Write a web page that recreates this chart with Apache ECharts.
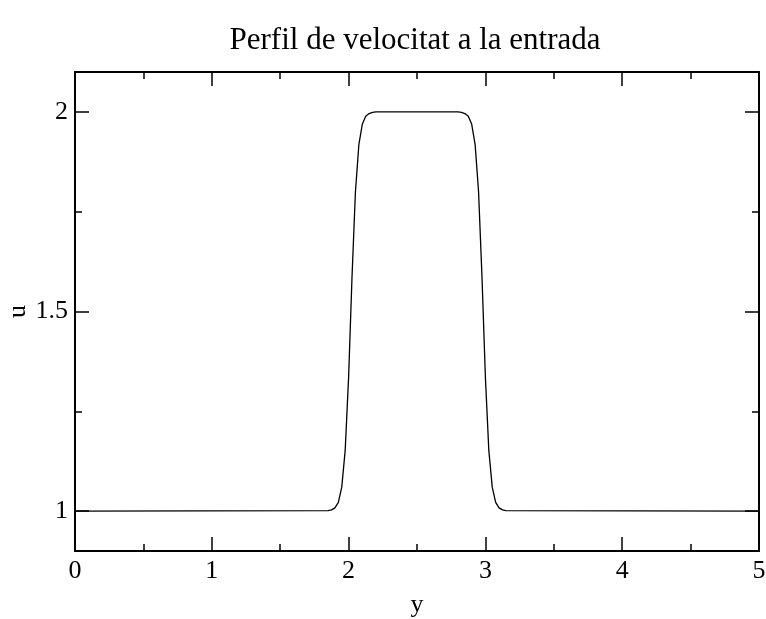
<!DOCTYPE html>
<html>
<head>
<meta charset="utf-8">
<script src="https://cdn.jsdelivr.net/npm/echarts@6/dist/echarts.min.js"></script>
<style>html,body{margin:0;padding:0;background:#fff}#c{width:766px;height:619px}</style>
</head>
<body>
<div id="c"></div>
<script>
const titleText = 'Perfil de velocitat a la entrada';
const xName = 'y';
const yName = 'u';
const yPos = [0, 1.85, 1.875, 1.9, 1.925, 1.95, 1.975, 2.0, 2.025, 2.05, 2.075, 2.1, 2.125, 2.15, 2.175, 2.2,
              2.8, 2.825, 2.85, 2.875, 2.9, 2.925, 2.95, 2.975, 3.0, 3.025, 3.05, 3.075, 3.1, 3.125, 3.15, 5];
const uVal = [1, 1.001, 1.003, 1.008, 1.022, 1.06, 1.152, 1.335, 1.587, 1.8, 1.918, 1.969, 1.989, 1.996, 1.999, 2.0,
              2.0, 1.999, 1.996, 1.989, 1.969, 1.918, 1.8, 1.587, 1.335, 1.152, 1.06, 1.022, 1.008, 1.003, 1.001, 1];
const yMajorTicks = [1, 1.5, 2];
const yMinorTicks = [1.25, 1.75];

const FONT = "'Liberation Serif', 'DejaVu Serif', serif";
const BLACK = '#000';
const chart = echarts.init(document.getElementById('c'), null, {renderer: 'canvas'});

function yAx(pos, ticks, len, labels, line, name) {
  return {
    type: 'value', position: pos, min: 0.9, max: 2.1,
    axisLine: {show: line, onZero: false, lineStyle: {color: BLACK, width: 2}},
    axisTick: {show: true, inside: true, length: len, customValues: ticks, lineStyle: {color: BLACK, width: 1.5}},
    axisLabel: {show: labels, customValues: ticks, color: BLACK, fontFamily: FONT, fontSize: 26, margin: 7,
      formatter: v => String(v)},
    splitLine: {show: false},
    name: name || '', nameLocation: 'middle', nameGap: 44,
    nameTextStyle: {color: BLACK, fontFamily: FONT, fontSize: 26}
  };
}
function xAx(pos, labels) {
  return {
    type: 'value', position: pos, min: 0, max: 5, interval: 1,
    axisLine: {show: true, onZero: false, lineStyle: {color: BLACK, width: 2}},
    axisTick: {show: true, inside: true, length: 14, lineStyle: {color: BLACK, width: 1.5}},
    minorTick: {show: true, splitNumber: 2, length: 7, lineStyle: {color: BLACK, width: 1.5}},
    axisLabel: {show: labels, color: BLACK, fontFamily: FONT, fontSize: 26, margin: 7},
    splitLine: {show: false}, minorSplitLine: {show: false},
    name: labels ? xName : '', nameLocation: 'middle', nameGap: 41,
    nameTextStyle: {color: BLACK, fontFamily: FONT, fontSize: 26}
  };
}

chart.setOption({
  animation: false,
  backgroundColor: '#fff',
  title: {text: titleText, left: 410, top: 20, textAlign: 'center',
    textStyle: {color: BLACK, fontFamily: FONT, fontSize: 31, fontWeight: 'normal'}},
  grid: {left: 75, right: 7, top: 72, bottom: 68, containLabel: false, outerBoundsMode: 'none'},
  xAxis: [xAx('bottom', true), xAx('top', false)],
  yAxis: [
    yAx('left', yMajorTicks, 14, true, true),
    yAx('left', yMinorTicks, 7, false, false, yName),
    yAx('right', yMajorTicks, 14, false, true),
    yAx('right', yMinorTicks, 7, false, false)
  ],
  series: [{
    type: 'line', xAxisIndex: 0, yAxisIndex: 0,
    data: yPos.map((x, i) => [x, uVal[i]]),
    showSymbol: false, smooth: false,
    lineStyle: {color: BLACK, width: 1.3}
  }]
});
</script>
</body>
</html>
